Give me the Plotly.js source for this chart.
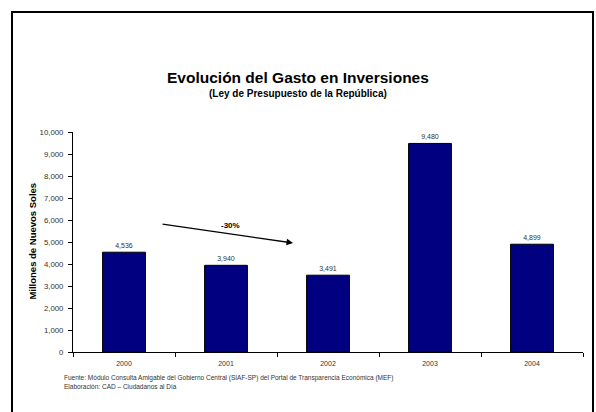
<!DOCTYPE html>
<html><head><meta charset="utf-8">
<script src="https://cdn.plot.ly/plotly-3.0.1.min.js"></script>
<style>html,body{margin:0;padding:0;background:#fff}#chart{width:596px;height:412px}</style>
</head><body><div id="chart"></div>
<script>
const years = ['2000','2001','2002','2003','2004'];
const gasto = [4536, 3940, 3491, 9480, 4899];
const yTicks = [0,1000,2000,3000,4000,5000,6000,7000,8000,9000,10000];
const changeLabel = '-30%';

const F = 'Arial, "Liberation Sans", sans-serif';
const trace = {
  type: 'bar', x: years, y: gasto,
  marker: {color: '#000080', line: {color: '#000000', width: 1}},
  width: 0.42,
  text: gasto.map(v => v.toLocaleString('en-US')),
  textposition: 'outside', cliponaxis: false,
  textfont: {family: F, size: 7, color: '#333333'},
  hoverinfo: 'x+y'
};
const layout = {
  width: 596, height: 412,
  margin: {l: 73, r: 13, t: 132, b: 60},
  paper_bgcolor: '#ffffff', plot_bgcolor: '#ffffff',
  showlegend: false,
  font: {family: F, color: '#000'},
  xaxis: {type: 'category', range: [-0.5, 4.5], showline: true, linecolor: '#000', linewidth: 1,
    ticks: 'outside', tickson: 'boundaries', ticklen: 4, tickcolor: '#000', ticklabelstandoff: 5,
    tickfont: {family: F, size: 7, color: '#333'}, showgrid: false, zeroline: false, fixedrange: true},
  yaxis: {range: [0, 10000], tickvals: yTicks, tickformat: ',d', showline: true, linecolor: '#000', linewidth: 1,
    ticks: 'outside', ticklen: 4, tickcolor: '#000', showgrid: false, zeroline: false, ticklabelstandoff: 3,
    tickfont: {family: F, size: 7.8, color: '#333'}},
  shapes: [{type: 'rect', xref: 'paper', yref: 'paper', x0: -0.1196, x1: 1.0196, y0: -0.5, y1: 1.5455,
    line: {color: '#000', width: 2}, fillcolor: 'rgba(0,0,0,0)', layer: 'above'}],
  annotations: [
    {xref: 'paper', yref: 'paper', x: 0.441, y: 1.25, text: '<b>Evolución del Gasto en Inversiones</b>', showarrow: false,
      font: {family: F, size: 15.5, color: '#000'}, xanchor: 'center', yanchor: 'middle'},
    {xref: 'paper', yref: 'paper', x: 0.441, y: 1.175, text: '<b>(Ley de Presupuesto de la República)</b>', showarrow: false,
      font: {family: F, size: 10, color: '#000'}, xanchor: 'center', yanchor: 'middle'},
    {xref: 'paper', yref: 'paper', x: -0.0784, y: 0.502, text: '<b>Millones de Nuevos Soles</b>', textangle: -90, showarrow: false,
      font: {family: F, size: 9.5, color: '#000'}, xanchor: 'center', yanchor: 'middle'},
    {xref: 'x', yref: 'y', x: 1.657, y: 4955, ax: 0.363, ay: 5818, axref: 'x', ayref: 'y', text: '',
      showarrow: true, arrowhead: 2, arrowsize: 1, arrowwidth: 1.3, arrowcolor: '#000'},
    {xref: 'x', yref: 'y', x: 1.04, y: 5730, text: '<b>' + changeLabel + '</b>', showarrow: false,
      font: {family: F, size: 8, color: '#000'}},
    {xref: 'paper', yref: 'paper', x: -0.0216, y: -0.118, xanchor: 'left', yanchor: 'middle', align: 'left', showarrow: false,
      text: 'Fuente: Módulo Consulta Amigable del Gobierno Central (SIAF-SP) del Portal de Transparencia Económica (MEF)',
      font: {family: F, size: 6.5, color: '#333'}},
    {xref: 'paper', yref: 'paper', x: -0.0216, y: -0.159, xanchor: 'left', yanchor: 'middle', align: 'left', showarrow: false,
      text: 'Elaboración: CAD – Ciudadanos al Día',
      font: {family: F, size: 6.5, color: '#333'}}
  ]
};
Plotly.newPlot('chart', [trace], layout, {displayModeBar: false, staticPlot: true});
</script></body></html>
